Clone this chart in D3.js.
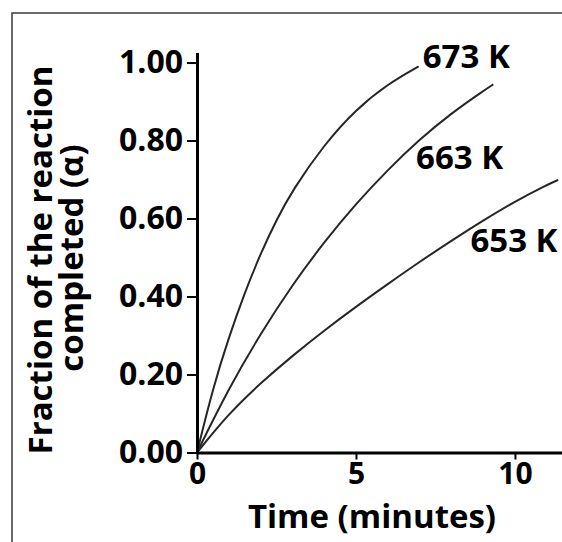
<!DOCTYPE html>
<html>
<head>
<meta charset="utf-8">
<script src="https://cdn.jsdelivr.net/npm/d3@7"></script>
<style>
  body { margin: 0; background: #fff; }
  text { font-family: "Open Sans", "Liberation Sans", sans-serif; font-weight: 700; fill: #000; }
</style>
</head>
<body>
<svg id="chart" width="562" height="542"></svg>
<script>
// values (time in minutes, alpha = fraction completed)
const t673 = [0, 0.5, 1, 1.5, 2, 2.5, 3, 4, 5, 6, 6.97];
const a673 = [0, 0.165, 0.295, 0.41, 0.51, 0.597, 0.672, 0.79, 0.88, 0.945, 0.99];

const t663 = [0, 1, 2, 3, 4, 5, 6, 7, 8, 9, 9.32];
const a663 = [0, 0.165, 0.305, 0.43, 0.54, 0.638, 0.725, 0.803, 0.87, 0.927, 0.944];

const t653 = [0, 1, 2, 3, 4, 5, 6, 7, 8, 9, 10, 11, 11.36];
const a653 = [0, 0.10, 0.178, 0.248, 0.313, 0.374, 0.432, 0.489, 0.543, 0.595, 0.644, 0.686, 0.699];

const seriesNames = ["673 K", "663 K", "653 K"];
// where each curve label sits, in data units (time, alpha)
const labelAt = [[7.1, 0.987], [6.89, 0.728], [8.6, 0.513]];

const xTicks = [0, 5, 10];
const yTicks = [0, 0.2, 0.4, 0.6, 0.8, 1.0];

const svg = d3.select("#chart");

// outer frame of the figure
svg.append("rect")
    .attr("x", 12).attr("y", 13)
    .attr("width", 620).attr("height", 620)
    .attr("fill", "none")
    .attr("stroke", "#3a3a3a")
    .attr("stroke-width", 1.5);

const x = d3.scaleLinear().domain([0, 11.48]).range([197, 562]);
const y = d3.scaleLinear().domain([0, 1.026]).range([452.5, 52.4]);

const series = [
    {name: seriesNames[0], t: t673, a: a673},
    {name: seriesNames[1], t: t663, a: a663},
    {name: seriesNames[2], t: t653, a: a653}
];

const line = d3.line()
    .x(d => x(d[0]))
    .y(d => y(d[1]))
    .curve(d3.curveBasis);

svg.append("g").selectAll("path")
    .data(series)
    .enter().append("path")
    .attr("d", d => line(d.t.map((v, i) => [v, d.a[i]])))
    .attr("fill", "none")
    .attr("stroke", "#262626")
    .attr("stroke-width", 2);

// axes
const yAxis = svg.append("g")
    .attr("transform", "translate(197,0)")
    .call(d3.axisLeft(y).tickValues(yTicks).tickFormat(d3.format(".2f"))
        .tickSize(10).tickSizeOuter(0).tickPadding(4));

const xAxis = svg.append("g")
    .attr("transform", "translate(0,452.5)")
    .call(d3.axisBottom(x).tickValues(xTicks).tickFormat(d3.format("d"))
        .tickSize(7).tickSizeOuter(0).tickPadding(3));

[yAxis, xAxis].forEach(g => {
    g.select(".domain").attr("stroke", "#000").attr("stroke-width", 3);
    g.selectAll(".tick line").attr("stroke", "#000").attr("stroke-width", 2);
    g.selectAll(".tick text")
        .style("font-family", '"Open Sans", sans-serif')
        .style("font-weight", 700)
        .style("font-size", "32px")
        .attr("fill", "#000");
});
xAxis.selectAll(".tick text").style("font-size", "30px");

// curve labels
svg.append("g").selectAll("text")
    .data(series)
    .enter().append("text")
    .attr("x", (d, i) => x(labelAt[i][0]))
    .attr("y", (d, i) => y(labelAt[i][1]))
    .style("font-size", "33px")
    .text(d => d.name);

// axis titles
svg.append("text")
    .attr("x", 372).attr("y", 527.5)
    .attr("text-anchor", "middle")
    .style("font-size", "33px")
    .text("Time (minutes)");

svg.append("text")
    .attr("transform", "translate(52,260) rotate(-90)")
    .attr("text-anchor", "middle")
    .style("font-size", "33px")
    .text("Fraction of the reaction");

svg.append("text")
    .attr("transform", "translate(83,258) rotate(-90)")
    .attr("text-anchor", "middle")
    .style("font-size", "33px")
    .text("completed (α)");
</script>
</body>
</html>
